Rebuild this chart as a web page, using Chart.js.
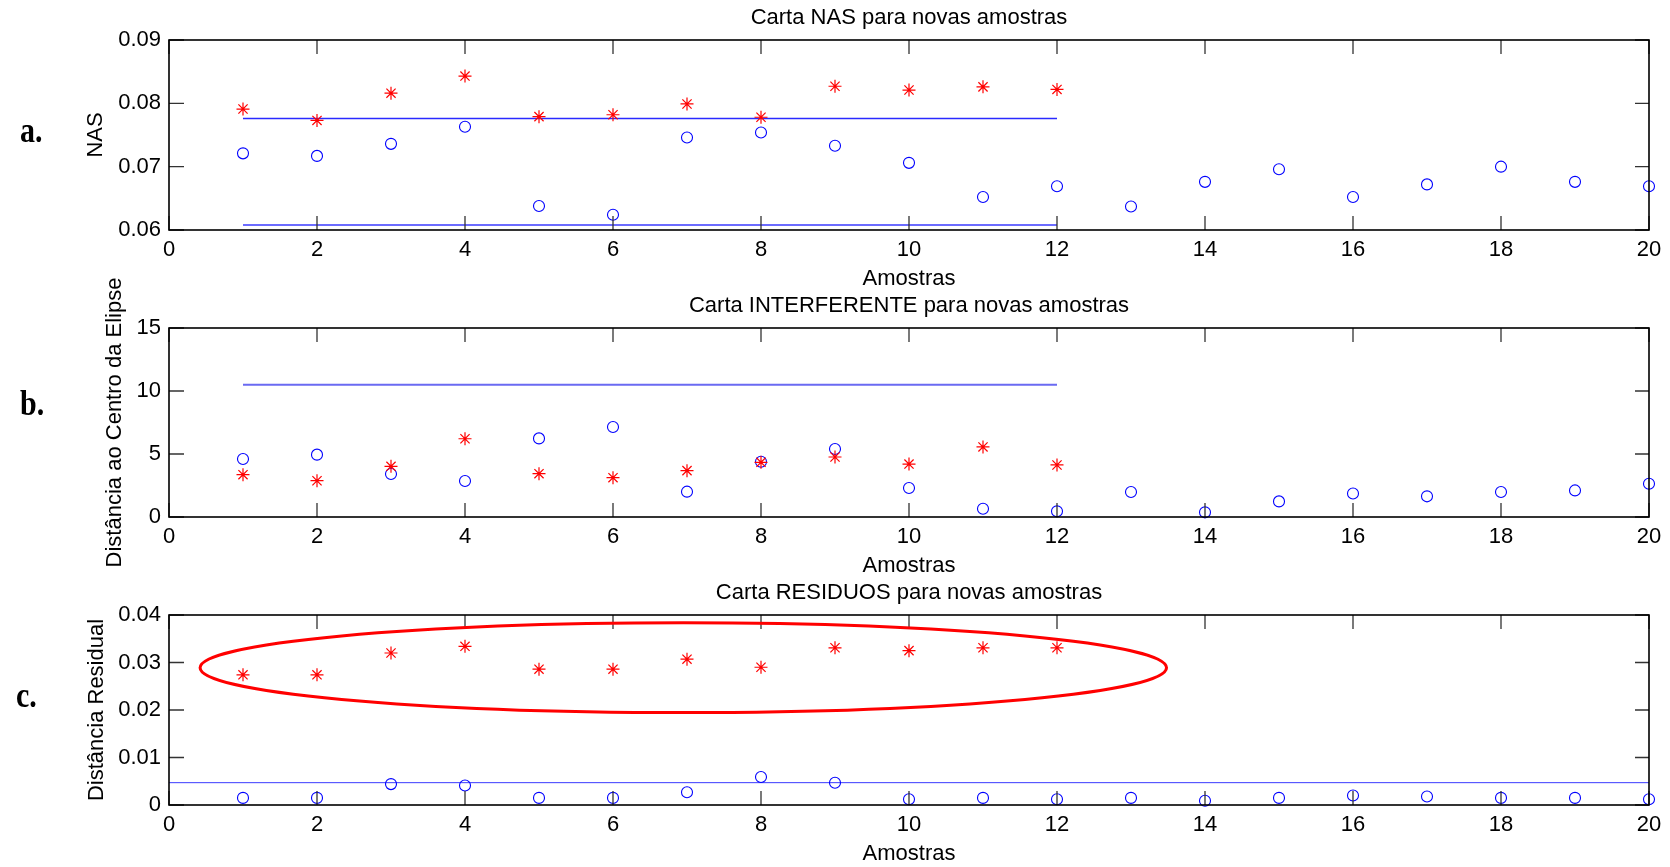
<!DOCTYPE html>
<html>
<head>
<meta charset="utf-8">
<script src="https://cdn.jsdelivr.net/npm/chart.js@4.4.1/dist/chart.umd.min.js"></script>
<style>
  body { margin: 0; background: #fff; }
  #wrap { position: relative; width: 1670px; height: 867px; overflow: hidden; }
  canvas { position: absolute; left: 0; top: 0; }
  .tag { position: absolute; font: bold 30px 'Liberation Serif', 'Times New Roman', serif; line-height: 30px;
         transform: scaleY(1.2); transform-origin: 0 25px; }
</style>
</head>
<body>
<div id="wrap">
  <canvas id="nasChart" width="1670" height="867"></canvas>
  <canvas id="intChart" width="1670" height="867"></canvas>
  <canvas id="resChart" width="1670" height="867"></canvas>
  <div class="tag" style="left:20px;top:117px">a.</div>
  <div class="tag" style="left:20px;top:390px">b.</div>
  <div class="tag" style="left:16px;top:682px">c.</div>
</div>
<script>
// sample numbers (x axis)
const amostras = [1, 2, 3, 4, 5, 6, 7, 8, 9, 10, 11, 12, 13, 14, 15, 16, 17, 18, 19, 20];
const xTicks = [0, 2, 4, 6, 8, 10, 12, 14, 16, 18, 20];

// a. NAS chart
const nasAsterisco = [0.0791, 0.0773, 0.0816, 0.0843, 0.0779, 0.0782, 0.0799, 0.0778, 0.0827, 0.0821, 0.0826, 0.0822];
const nasCirculo = [0.0721, 0.0717, 0.0736, 0.0763, 0.0638, 0.0624, 0.0746, 0.0754, 0.0733, 0.0706,
                    0.0652, 0.0669, 0.0637, 0.0676, 0.0696, 0.0652, 0.0672, 0.0700, 0.0676, 0.0669];
const nasLimSup = 0.0776;
const nasLimInf = 0.0608;
const nasTicks = [0.06, 0.07, 0.08, 0.09];

// b. INTERFERENTE chart
const intAsterisco = [3.36, 2.88, 4.02, 6.21, 3.44, 3.12, 3.68, 4.34, 4.76, 4.20, 5.56, 4.13];
const intCirculo = [4.60, 4.95, 3.41, 2.86, 6.24, 7.14, 2.01, 4.39, 5.40, 2.30,
                    0.66, 0.45, 1.98, 0.37, 1.24, 1.87, 1.64, 1.98, 2.11, 2.64];
const intLim = 10.5;
const intTicks = [0, 5, 10, 15];

// c. RESIDUOS chart
const resAsterisco = [0.0274, 0.0274, 0.0320, 0.0334, 0.0286, 0.0286, 0.0307, 0.0290, 0.0331, 0.0325, 0.0331, 0.0331];
const resCirculo = [0.0015, 0.0015, 0.0044, 0.0041, 0.0015, 0.0015, 0.0027, 0.0059, 0.0047, 0.0012,
                    0.0015, 0.0012, 0.0015, 0.0009, 0.0015, 0.0020, 0.0018, 0.0015, 0.0015, 0.0012];
const resLim = 0.0047;
const resTicks = [0, 0.01, 0.02, 0.03, 0.04];

// limit line extents (sample numbers)
const limCalib = [1, 12];
const limTodos = [0, 20];

// highlight ellipse in chart c (data units)
const elipseCentro = [6.95, 0.0289];
const elipseRaio = [6.53, 0.00945];

Chart.defaults.font.family = "'Liberation Sans', Arial, sans-serif";
Chart.defaults.color = '#000';

const FONT = { size: 22 };

function pontos(vals) {
  return vals.map((v, i) => ({ x: amostras[i], y: v }));
}
function linha(ext, v) {
  return ext.map(x => ({ x: x, y: v }));
}

// MATLAB style box with inward ticks on all four sides
const matlabAxes = {
  id: 'matlabAxes',
  afterDatasetsDraw(chart) {
    const { ctx, chartArea: a, scales: { x, y } } = chart;
    ctx.save();
    ctx.strokeStyle = '#333';
    ctx.lineWidth = 1.3;
    ctx.beginPath();
    x.ticks.forEach(t => {
      const px = x.getPixelForValue(t.value);
      ctx.moveTo(px, a.bottom); ctx.lineTo(px, a.bottom - 14);
      ctx.moveTo(px, a.top); ctx.lineTo(px, a.top + 14);
    });
    y.ticks.forEach(t => {
      const py = y.getPixelForValue(t.value);
      ctx.moveTo(a.left, py); ctx.lineTo(a.left + 15, py);
      ctx.moveTo(a.right, py); ctx.lineTo(a.right - 14, py);
    });
    ctx.stroke();
    ctx.strokeStyle = '#000';
    ctx.lineWidth = 1.6;
    ctx.strokeRect(a.left, a.top, a.right - a.left, a.bottom - a.top);
    ctx.restore();
  }
};

const elipse = {
  id: 'elipse',
  afterDatasetsDraw(chart) {
    const { ctx, scales: { x, y } } = chart;
    const cx = x.getPixelForValue(elipseCentro[0]);
    const cy = y.getPixelForValue(elipseCentro[1]);
    const rx = x.getPixelForValue(elipseCentro[0] + elipseRaio[0]) - cx;
    const ry = cy - y.getPixelForValue(elipseCentro[1] + elipseRaio[1]);
    ctx.save();
    ctx.strokeStyle = '#ff0000';
    ctx.lineWidth = 3;
    ctx.beginPath();
    ctx.ellipse(cx, cy, rx, ry, 0, 0, Math.PI * 2);
    ctx.stroke();
    ctx.restore();
  }
};

function makeChart(id, o) {
  return new Chart(document.getElementById(id), {
    type: 'scatter',
    data: { datasets: o.datasets },
    options: {
      responsive: false,
      animation: false,
      devicePixelRatio: 1,
      events: [],
      layout: { padding: { left: 0, right: 21, top: o.top, bottom: o.bottom } },
      plugins: {
        legend: { display: false },
        tooltip: { enabled: false },
        title: { display: false }
      },
      scales: {
        // top axis only carries the chart title, centred over the plot box
        xTop: {
          type: 'linear', position: 'top', min: 0, max: 20,
          grid: { display: false, drawTicks: false },
          border: { display: false },
          ticks: { display: false },
          afterFit: s => { s.height = 40; },
          title: { display: true, text: o.title, font: FONT, color: '#000', padding: { top: 4.8, bottom: 0 } }
        },
        x: {
          type: 'linear', position: 'bottom', min: 0, max: 20,
          grid: { display: false, drawTicks: false },
          border: { display: false },
          afterBuildTicks: s => { s.ticks = xTicks.map(v => ({ value: v })); },
          afterFit: s => { s.height = 62; },
          ticks: { font: FONT, padding: 6.5, color: '#000' },
          title: { display: true, text: 'Amostras', font: FONT, color: '#000', padding: { top: 0, bottom: 0 } }
        },
        y: {
          type: 'linear', min: o.yTicks[0], max: o.yTicks[o.yTicks.length - 1],
          grid: { display: false, drawTicks: false },
          border: { display: false },
          afterBuildTicks: s => { s.ticks = o.yTicks.map(v => ({ value: v })); },
          afterFit: s => { s.width = 169; },
          ticks: { font: FONT, padding: 8, color: '#000', callback: v => String(v) },
          title: { display: true, text: o.yTitle, font: FONT, color: '#000', padding: { top: o.yTitlePad, bottom: 0 } }
        }
      }
    },
    plugins: [matlabAxes].concat(o.extra || [])
  });
}

function asteriscos(vals) {
  return { data: pontos(vals), pointStyle: 'star', pointRadius: 6.5, borderColor: '#ff0000',
           backgroundColor: '#ff0000', borderWidth: 1.2, clip: false };
}
function circulos(vals) {
  return { data: pontos(vals), pointStyle: 'circle', pointRadius: 5.5, borderColor: '#0000ff',
           backgroundColor: 'rgba(0,0,0,0)', borderWidth: 1.1, clip: false };
}
function limite(ext, v, cor, w) {
  return { data: linha(ext, v), showLine: true, pointRadius: 0, borderColor: cor, borderWidth: w, clip: false };
}

makeChart('nasChart', {
  top: 0, bottom: 575, yTicks: nasTicks, yTitle: 'NAS', yTitlePad: 82.8,
  title: 'Carta NAS para novas amostras',
  datasets: [
    asteriscos(nasAsterisco),
    circulos(nasCirculo),
    limite(limCalib, nasLimSup, '#2a2aff', 1.5),
    limite(limCalib, nasLimInf, '#6c6cff', 2)
  ]
});

makeChart('intChart', {
  top: 288, bottom: 288, yTicks: intTicks, yTitle: 'Distância ao Centro da Elipse', yTitlePad: 101.8,
  title: 'Carta INTERFERENTE para novas amostras',
  datasets: [
    asteriscos(intAsterisco),
    circulos(intCirculo),
    limite(limCalib, intLim, '#6a6af2', 2)
  ]
});

makeChart('resChart', {
  top: 575, bottom: 0, yTicks: resTicks, yTitle: 'Distância Residual', yTitlePad: 83.8,
  title: 'Carta RESIDUOS para novas amostras',
  datasets: [
    asteriscos(resAsterisco),
    circulos(resCirculo),
    limite(limTodos, resLim, '#3a3aff', 1)
  ],
  extra: [elipse]
});
</script>
</body>
</html>
